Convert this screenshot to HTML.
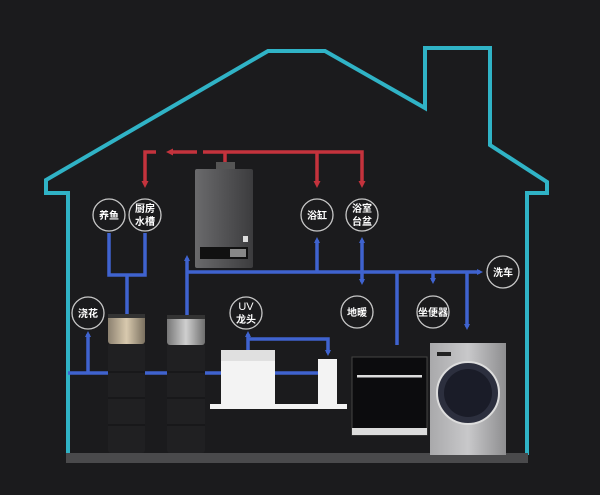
<!DOCTYPE html>
<html><head><meta charset="utf-8"><style>
html,body{margin:0;padding:0;background:#1b1b1d;}
svg{display:block}
text{font-family:"Liberation Sans","Noto Sans CJK SC",sans-serif;fill:#fff;font-weight:bold;font-size:10px;text-anchor:middle}
</style></head><body>
<svg width="600" height="495" viewBox="0 0 600 495" xmlns="http://www.w3.org/2000/svg">
<defs>
<marker id="ab" markerWidth="6" markerHeight="6" refX="3" refY="3" orient="auto" markerUnits="userSpaceOnUse"><path d="M0,0 L6,3 L0,6 Z" fill="#3f63cf"/></marker>
<marker id="abs" markerWidth="6" markerHeight="6" refX="3" refY="3" orient="auto-start-reverse" markerUnits="userSpaceOnUse"><path d="M0,0 L6,3 L0,6 Z" fill="#3f63cf"/></marker>
<marker id="ar" markerWidth="7" markerHeight="7" refX="3" refY="3.5" orient="auto" markerUnits="userSpaceOnUse"><path d="M0,0 L7,3.5 L0,7 Z" fill="#c4333d"/></marker>
<linearGradient id="hg" x1="0" x2="1"><stop offset="0" stop-color="#6a6a6c"/><stop offset="1" stop-color="#3c3c3e"/></linearGradient>
<linearGradient id="gold" x1="0" x2="1"><stop offset="0" stop-color="#8c8170"/><stop offset=".5" stop-color="#d8c9ae"/><stop offset="1" stop-color="#7a705f"/></linearGradient>
<linearGradient id="silv" x1="0" x2="1"><stop offset="0" stop-color="#777"/><stop offset=".5" stop-color="#cfcfcf"/><stop offset="1" stop-color="#6e6e6e"/></linearGradient>
<linearGradient id="wash" x1="0" x2="1"><stop offset="0" stop-color="#a9a9ab"/><stop offset=".5" stop-color="#c8c8ca"/><stop offset="1" stop-color="#8e8e90"/></linearGradient>
</defs>
<rect width="600" height="495" fill="#1b1b1d"/>
<path d="M68,455 L68,193 L46,193 L46,180 L268,51 L325,51 L425,108 L425,48 L490,48 L490,145 L547,182 L547,193 L527,193 L527,455" fill="none" stroke="#30b3c6" stroke-width="4"/>
<rect x="66" y="453" width="462" height="10" fill="#4a4a4c"/>
<g stroke="#c4333d" stroke-width="3.5" fill="none">
<path d="M156,152 L145,152 L145,184" marker-end="url(#ar)"/>
<path d="M197,152 L170,152" marker-end="url(#ar)"/>
<path d="M203,152 L362,152 L362,184" marker-end="url(#ar)"/>
<path d="M317,152 L317,184" marker-end="url(#ar)"/>
<path d="M225,152 L225,162"/>
</g>
<rect x="216" y="162" width="19" height="8" fill="#555"/>
<rect x="195" y="169" width="58" height="99" rx="2" fill="url(#hg)"/>
<rect x="200" y="247" width="48" height="12" fill="#111"/>
<rect x="230" y="249" width="16" height="8" fill="#888"/>
<rect x="243" y="236" width="5" height="6" fill="#ddd"/>
<g stroke="#3f63cf" stroke-width="3.5" fill="none">
<path d="M109,233 L109,275 L145,275 L145,233"/>
<path d="M127,275 L127,315"/>
<path d="M187,315 L187,258" marker-end="url(#ab)"/>
<path d="M187,272 L480,272" marker-end="url(#ab)"/>
<path d="M317,272 L317,240" marker-end="url(#ab)"/>
<path d="M362,240 L362,282" marker-start="url(#abs)" marker-end="url(#ab)"/>
<path d="M397,272 L397,345"/>
<path d="M433,272 L433,281" marker-end="url(#ab)"/>
<path d="M467,272 L467,327" marker-end="url(#ab)"/>
<path d="M68,373 L330,373"/>
<path d="M88,373 L88,334" marker-end="url(#ab)"/>
<path d="M248,350 L248,334" marker-end="url(#ab)"/>
<path d="M248,339 L328,339 L328,353" marker-end="url(#ab)"/>
</g>
<g fill="#1b1b1d" stroke="#c8c8c8" stroke-width="1.3">
<circle cx="109" cy="215" r="16"/><circle cx="145" cy="215" r="16"/>
<circle cx="317" cy="215" r="16"/><circle cx="362" cy="215" r="16"/>
<circle cx="88" cy="313" r="16"/><circle cx="246" cy="313" r="16"/>
<circle cx="357" cy="312" r="16"/><circle cx="433" cy="312" r="16"/>
<circle cx="503" cy="272" r="16"/>
</g>
<text x="109" y="219">养鱼</text>
<text x="145" y="212">厨房</text><text x="145" y="225">水槽</text>
<text x="317" y="219">浴缸</text>
<text x="362" y="212">浴室</text><text x="362" y="225">台盆</text>
<text x="88" y="317">浇花</text>
<text x="246" y="310" style="font-weight:normal;font-size:11px">UV</text><text x="246" y="323">龙头</text>
<text x="357" y="316">地暖</text>
<text x="433" y="316">坐便器</text>
<text x="503" y="276">洗车</text>
<rect x="108" y="343" width="37" height="110" rx="3" fill="#202022"/>
<rect x="108" y="314" width="37" height="30" rx="3" fill="url(#gold)"/>
<rect x="108" y="314" width="37" height="4" fill="#333"/>
<rect x="167" y="343" width="38" height="110" rx="3" fill="#202022"/>
<rect x="167" y="315" width="38" height="30" rx="3" fill="url(#silv)"/>
<rect x="167" y="315" width="38" height="4" fill="#333"/>
<g stroke="#111" stroke-width="1"><path d="M108,372H145M108,398H145M108,425H145M167,372H205M167,398H205M167,425H205"/></g>
<rect x="221" y="350" width="54" height="55" fill="#f3f3f3"/>
<rect x="221" y="350" width="54" height="11" fill="#e0e0e0"/>
<rect x="318" y="359" width="19" height="46" fill="#f3f3f3"/>
<rect x="210" y="404" width="137" height="5" fill="#f3f3f3"/>
<rect x="352" y="357" width="75" height="78" fill="#0c0c0e" stroke="#444" stroke-width="1"/>
<rect x="357" y="375" width="65" height="2.5" fill="#ddd"/>
<rect x="352" y="428" width="75" height="7" fill="#dcdcdc"/>
<rect x="430" y="343" width="76" height="112" fill="url(#wash)"/>
<rect x="437" y="352" width="14" height="4" fill="#222"/>
<circle cx="468" cy="393" r="31" fill="#2c2f3e" stroke="#ddd" stroke-width="2"/>
<circle cx="468" cy="393" r="24" fill="#1a1c28"/>
</svg>
</body></html>
